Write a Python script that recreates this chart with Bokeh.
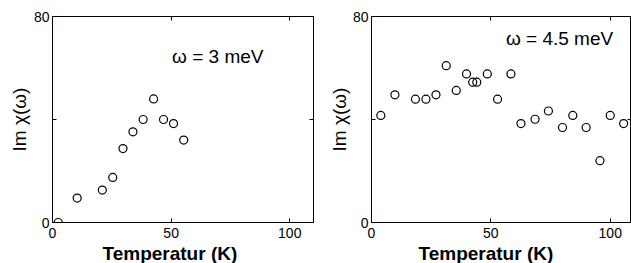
import numpy as np
from bokeh.plotting import figure
from bokeh.models import LinearAxis, FixedTicker, Label, Range1d, ColumnDataSource, Title
from bokeh.layouts import row
from bokeh.embed import file_html
from bokeh.resources import INLINE

# Data
t_3mev = [2.4, 10.4, 21.0, 25.4, 29.7, 33.9, 38.2, 42.6, 46.8, 51.0, 55.3]
chi_3mev = [0.0, 9.5, 12.6, 17.5, 28.7, 35.2, 40.0, 48.0, 40.0, 38.4, 32.0]

t_45mev = [3.9, 9.8, 18.4, 22.8, 27.0, 31.3, 35.5, 39.8, 42.4, 44.1, 48.5,
           52.8, 58.4, 62.6, 68.5, 74.1, 80.0, 84.3, 89.9, 95.7, 100.0, 105.6]
chi_45mev = [41.6, 49.6, 47.9, 47.9, 49.6, 60.9, 51.3, 57.7, 54.5, 54.5, 57.7,
             47.9, 57.7, 38.4, 40.1, 43.3, 36.9, 41.6, 36.9, 24.0, 41.6, 38.4]

x_ticks = [0, 50, 100]
y_ticks = [0, 40, 80]
y_tick_labels = {0: "0", 40: "", 80: "80"}
x_label = "Temperatur (K)"
y_label = "Im χ(ω)"
titles = ["ω = 3 meV", "ω = 4.5 meV"]

FONT = "Liberation Sans"


def make_panel(t, chi, title, title_x, title_y, xend, frame_w,
               left_b, right_b, top_b, xlab_offset, ylab_standoff):
    p = figure(frame_width=frame_w, frame_height=206,
               x_range=Range1d(0, xend), y_range=Range1d(0, 80),
               output_backend="svg", toolbar_location=None,
               min_border_left=left_b, min_border_right=right_b,
               min_border_top=top_b, min_border_bottom=41)
    p.grid.visible = False
    p.outline_line_color = "black"
    p.outline_line_alpha = 1.0
    p.outline_line_width = 1
    p.background_fill_color = "white"
    p.border_fill_color = "white"

    for ax in p.xaxis:
        ax.ticker = FixedTicker(ticks=x_ticks)
    for ax in p.yaxis:
        ax.ticker = FixedTicker(ticks=y_ticks)
        ax.major_label_overrides = y_tick_labels
    for ax in list(p.xaxis) + list(p.yaxis):
        ax.major_tick_in = 4
        ax.major_tick_out = 0
        ax.minor_tick_in = 0
        ax.minor_tick_out = 0
        ax.axis_line_color = "black"
        ax.major_tick_line_color = "black"
        ax.major_label_text_font = FONT
        ax.major_label_text_font_size = "14px"
        ax.major_label_text_color = "black"
    p.xaxis.major_label_standoff = 5
    p.yaxis.major_label_standoff = 3

    for loc, ticks in (("right", y_ticks), ("above", x_ticks)):
        ax = LinearAxis(ticker=FixedTicker(ticks=ticks),
                        major_tick_in=4, major_tick_out=0,
                        minor_tick_in=0, minor_tick_out=0,
                        major_label_text_font_size="0px",
                        major_label_standoff=0,
                        major_label_overrides={k: "" for k in ticks},
                        axis_line_color="black")
        p.add_layout(ax, loc)

    src = ColumnDataSource(dict(t=t, chi=chi))
    p.scatter("t", "chi", source=src, marker="circle", size=8,
              fill_color=None, line_color="black", line_width=1.2)

    p.add_layout(Label(x=title_x, y=title_y, text=title, text_font=FONT,
                       text_font_size="19px", text_baseline="middle",
                       text_color="black"))
    p.add_layout(Title(text=x_label, text_font=FONT, text_font_size="19px",
                       text_font_style="bold", text_color="black",
                       align="left", offset=xlab_offset, standoff=0),
                 "below")
    p.add_layout(Title(text=y_label, text_font=FONT, text_font_size="19px",
                       text_font_style="normal", text_color="black",
                       align="center", standoff=ylab_standoff),
                 "left")
    return p


p1 = make_panel(t_3mev, chi_3mev, titles[0], 50.4, 64.5,
                110, 261, 52, 13, 16, 50, 2)
p2 = make_panel(t_45mev, chi_45mev, titles[1], 56.3, 71.3,
                108.9, 260, 44, 0, 16, 47, 0)

layout = row(p1, p2)
open("out.html", "w").write(file_html(layout, INLINE))
